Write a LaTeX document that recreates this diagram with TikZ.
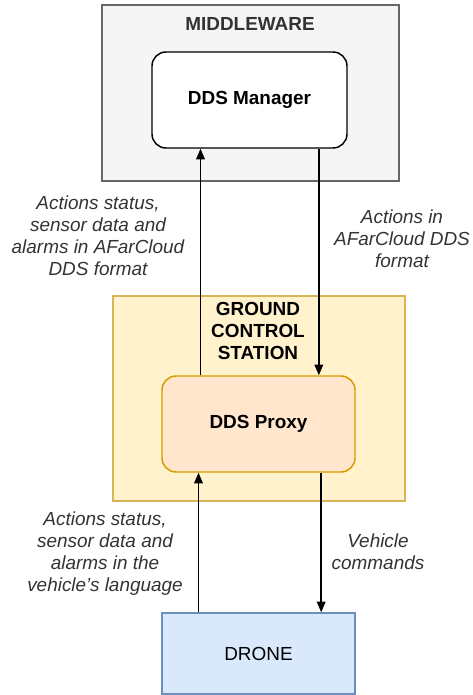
\documentclass[tikz,border=0pt]{standalone}
\usepackage{fontspec}
\setmainfont{Liberation Sans}
\usetikzlibrary{arrows.meta, positioning}

\definecolor{mwfill}{HTML}{F5F5F5}
\definecolor{mwline}{HTML}{666666}
\definecolor{gcsfill}{HTML}{FFF2CC}
\definecolor{gcsline}{HTML}{D6B656}
\definecolor{proxyfill}{HTML}{FFE6CC}
\definecolor{proxyline}{HTML}{D79B00}
\definecolor{dronefill}{HTML}{DAE8FC}
\definecolor{droneline}{HTML}{6C8EBF}
\definecolor{txt}{HTML}{333333}

\begin{document}
\begin{tikzpicture}[
    x=0.75pt, y=-0.75pt,
    every node/.style={font=\fontsize{14.2}{16.5}\selectfont, inner sep=0pt},
    container/.style={draw, line width=1.1pt, minimum width=#1},
    block/.style={draw, line width=1.1pt, rounded corners=10.5pt, minimum width=144.75pt, minimum height=72pt, font=\fontsize{14.2}{16.5}\selectfont\bfseries},
    flowlabel/.style={align=center, text=txt, font=\fontsize{14.2}{16.5}\selectfont\itshape},
    flow/.style={line width=1.1pt, -{Stealth[length=8pt, width=6.5pt, inset=0pt]}},
]
\useasboundingbox (0,0) rectangle (473,695);

% === Middleware container ===
\node[container=222.75pt, minimum height=132pt, fill=mwfill, draw=mwline] (middleware) at (250.5,93) {};
\node[text=txt, font=\fontsize{14.2}{16.5}\selectfont\bfseries] (mwtitle) at (250,24) {MIDDLEWARE};

% === DDS Manager ===
\node[block, fill=white, minimum width=146.25pt] (manager) at (249.5,100) {DDS Manager};

% === Ground control station container ===
\node[container=219pt, minimum height=153.75pt, fill=gcsfill, draw=gcsline] (gcs) at (259,398.5) {};
\node[align=center, font=\fontsize{14.2}{16.5}\selectfont\bfseries] (gcstitle) at (258,331) {GROUND\\CONTROL\\STATION};

% === DDS Proxy ===
\node[block, fill=proxyfill, draw=proxyline] (proxy) at (258.5,424) {DDS Proxy};

% === Drone ===
\node[container=144.75pt, minimum height=60.75pt, fill=dronefill, draw=droneline] (drone) at (258.5,653.5) {DRONE};

% === Connectors ===
\draw[flow] ([xshift=-43.5pt]proxy.north) -- ([xshift=-43.5pt]proxy.north |- manager.south);
\draw[flow] ([xshift=52pt]manager.south) -- ([xshift=52pt]manager.south |- proxy.north);
\draw[flow] ([xshift=-45pt]drone.north) -- ([xshift=-45pt]drone.north |- proxy.south);
\draw[flow] ([xshift=47pt]proxy.south) -- ([xshift=47pt]proxy.south |- drone.north);

% === Connector labels ===
\node[flowlabel] (upperleft) at (98,236) {Actions status,\\sensor data and\\alarms in AFarCloud\\DDS format};
\node[flowlabel] (upperright) at (402,239) {Actions in\\AFarCloud DDS\\format};
\node[flowlabel] (lowerleft) at (105,554) {Actions status,\\sensor data and\\alarms in the\\vehicle's language};
\node[flowlabel] (lowerright) at (378,552) {Vehicle\\commands};

\end{tikzpicture}
\end{document}
